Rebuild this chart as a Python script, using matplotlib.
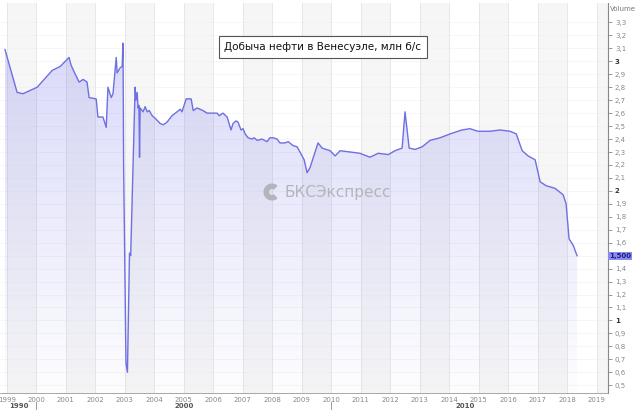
import numpy as np
import matplotlib
matplotlib.use('Agg')
import matplotlib.pyplot as plt
from matplotlib.patches import Arc
from matplotlib.transforms import blended_transform_factory

### oil production in Venezuela, mln bbl/day
years = [1998.94, 1999.35, 1999.55, 2000.03, 2000.54, 2000.81, 2001.11, 2001.18, 2001.28, 2001.45,
         2001.59, 2001.72, 2001.79, 2002.03, 2002.09, 2002.26, 2002.37, 2002.43, 2002.54, 2002.60,
         2002.71, 2002.74, 2002.84, 2002.91, 2002.94, 2002.96, 2003.04, 2003.09, 2003.16, 2003.20,
         2003.35, 2003.38, 2003.42, 2003.45, 2003.48, 2003.50, 2003.52, 2003.62, 2003.69, 2003.76,
         2003.83, 2003.93, 2004.03, 2004.20, 2004.30, 2004.43, 2004.60, 2004.77, 2004.88, 2004.94,
         2005.08, 2005.25, 2005.32, 2005.45, 2005.65, 2005.79, 2006.13, 2006.20, 2006.33, 2006.47,
         2006.60, 2006.67, 2006.77, 2006.84, 2006.94, 2007.01, 2007.08, 2007.18, 2007.32, 2007.38,
         2007.49, 2007.65, 2007.82, 2007.92, 2008.03, 2008.16, 2008.26, 2008.43, 2008.54, 2008.70,
         2008.84, 2008.94, 2009.08, 2009.18, 2009.28, 2009.55, 2009.69, 2009.96, 2010.13, 2010.30,
         2010.64, 2010.97, 2011.31, 2011.59, 2011.93, 2012.16, 2012.40, 2012.50, 2012.64, 2012.84,
         2013.08, 2013.35, 2013.69, 2014.03, 2014.43, 2014.70, 2014.97, 2015.38, 2015.72, 2016.06,
         2016.27, 2016.47, 2016.67, 2016.91, 2017.08, 2017.28, 2017.58, 2017.86, 2017.96, 2018.06,
         2018.20, 2018.33]
values = [3.09, 2.76, 2.75, 2.80, 2.93, 2.96, 3.03, 2.97, 2.92, 2.84,
          2.86, 2.84, 2.72, 2.71, 2.57, 2.57, 2.49, 2.80, 2.72, 2.75,
          3.03, 2.91, 2.95, 2.96, 3.14, 2.21, 0.67, 0.60, 1.52, 1.50,
          2.80, 2.70, 2.76, 2.64, 2.66, 2.26, 2.64, 2.61, 2.65, 2.61,
          2.62, 2.58, 2.56, 2.52, 2.51, 2.53, 2.58, 2.61, 2.63, 2.61,
          2.71, 2.71, 2.62, 2.64, 2.62, 2.60, 2.60, 2.58, 2.60, 2.57,
          2.47, 2.52, 2.54, 2.53, 2.47, 2.48, 2.44, 2.41, 2.40, 2.41,
          2.39, 2.40, 2.38, 2.41, 2.41, 2.40, 2.37, 2.37, 2.38, 2.35,
          2.34, 2.30, 2.24, 2.14, 2.18, 2.37, 2.33, 2.31, 2.27, 2.31,
          2.30, 2.29, 2.26, 2.29, 2.28, 2.31, 2.33, 2.61, 2.33, 2.32,
          2.34, 2.39, 2.41, 2.44, 2.47, 2.48, 2.46, 2.46, 2.47, 2.46,
          2.44, 2.31, 2.27, 2.24, 2.07, 2.04, 2.02, 1.97, 1.90, 1.63,
          1.58, 1.50]
last_label = '1,500'
title = 'Добыча нефти в Венесуэле, млн б/с'
year_ticks = list(range(1999, 2020))
decades = ['1990', '2000', '2010']
decade_pos = [1999.4, 2005.0, 2014.55]

x0, x1 = 1998.77, 2019.38
y0, y1 = 0.44, 3.45
line_color = '#6f6fe2'

fig = plt.figure(figsize=(6.4, 4.12), dpi=100)
ax = fig.add_axes([0.0, 19/412, 608/640, 1 - 22/412])
ax.set_xlim(x0, x1)
ax.set_ylim(y0, y1)

### alternating year bands + grid
for yr in range(1999, 2020, 2):
    ax.axvspan(yr, yr + 1, color='#f6f6f6', lw=0, zorder=0)
for yr in year_ticks:
    ax.axvline(yr, color='#e4e4e4', lw=0.6, zorder=0.5)
for v in np.arange(0.5, 3.35, 0.1):
    ax.axhline(v, color='#efefef', lw=0.4, zorder=0.4)

### gradient fill under the line
poly = ax.fill_between(years, values, y0, color='none', lw=0)
grad = np.zeros((256, 1, 4))
a = np.linspace(0.0, 0.27, 256)
grad[:, 0, 0] = 0.45
grad[:, 0, 1] = 0.45
grad[:, 0, 2] = 0.93
grad[:, 0, 3] = a
img = ax.imshow(grad, extent=[x0, x1, 0.3, 3.2], origin='lower', aspect='auto', zorder=1)
path = poly.get_paths()[0]
img.set_clip_path(path, transform=ax.transData)
ax.plot(years, values, color=line_color, lw=1.0, zorder=2)

### right axis
ax.yaxis.tick_right()
yt = np.round(np.arange(0.5, 3.31, 0.1), 1)
ax.set_yticks(yt)
ylabels = []
for v in yt:
    if abs(v - 1.5) < 1e-6:
        ylabels.append('')  # hidden behind the last value marker
    elif abs(v - round(v)) < 1e-6:
        ylabels.append(str(int(round(v))))
    else:
        ylabels.append(('%.1f' % v).replace('.', ','))
ax.set_yticklabels(ylabels)
ax.tick_params(axis='y', labelsize=5, colors='#888888', length=3, width=0.6, pad=2)
for lab, v in zip(ax.get_yticklabels(), yt):
    if abs(v - round(v)) < 1e-6:
        lab.set_color('#333333')
        lab.set_fontweight('bold')

ax.set_xticks(year_ticks)
ax.set_xticklabels([str(y) for y in year_ticks])
ax.tick_params(axis='x', labelsize=5, colors='#888888', length=0, pad=3)

for s in ['left', 'top']:
    ax.spines[s].set_visible(False)
ax.spines['right'].set_color('#888888')
ax.spines['right'].set_linewidth(0.8)
ax.spines['bottom'].set_color('#999999')
ax.spines['bottom'].set_linewidth(0.6)

ax.text(1.003, 1.0 - 6/390, 'Volume', transform=ax.transAxes, fontsize=5,
        color='#777777', ha='left', va='center')

### last value marker
ax.text(1.002, values[-1], last_label, transform=blended_transform_factory(ax.transAxes, ax.transData),
        fontsize=5, color='#1c1c70', fontweight='bold', ha='left', va='center',
        bbox=dict(boxstyle='square,pad=0.15', fc='#8a8af2', ec='none'))

### decade row
tr = blended_transform_factory(ax.transData, fig.transFigure)
for lab, p in zip(decades, decade_pos):
    fig.text(p, 6/412, lab, transform=tr, fontsize=5, fontweight='bold', color='#555555',
             ha='center', va='center')
for p in [2000, 2010]:
    ax.plot([p, p], [3/412, 10/412], transform=tr, color='#888888', lw=0.6, clip_on=False)

### title box
ax.text(0.531, 1 - 44/390, title, transform=ax.transAxes, fontsize=7.5, color='#111111',
        ha='center', va='center',
        bbox=dict(boxstyle='square,pad=0.55', fc='white', ec='#555555', lw=0.8), zorder=5)

### watermark
fig.text(285/640, 1 - 192/412, 'БКСЭкспресс', fontsize=11, color='#b4b4bc',
         ha='left', va='center', zorder=6)
for r in [14, 9]:
    fig.add_artist(Arc((272/640, 1 - 192/412), r/640, r/412, theta1=60, theta2=300,
                       transform=fig.transFigure, color='#b4b4bc', lw=2.2))

fig.savefig('out.png', dpi=100)
